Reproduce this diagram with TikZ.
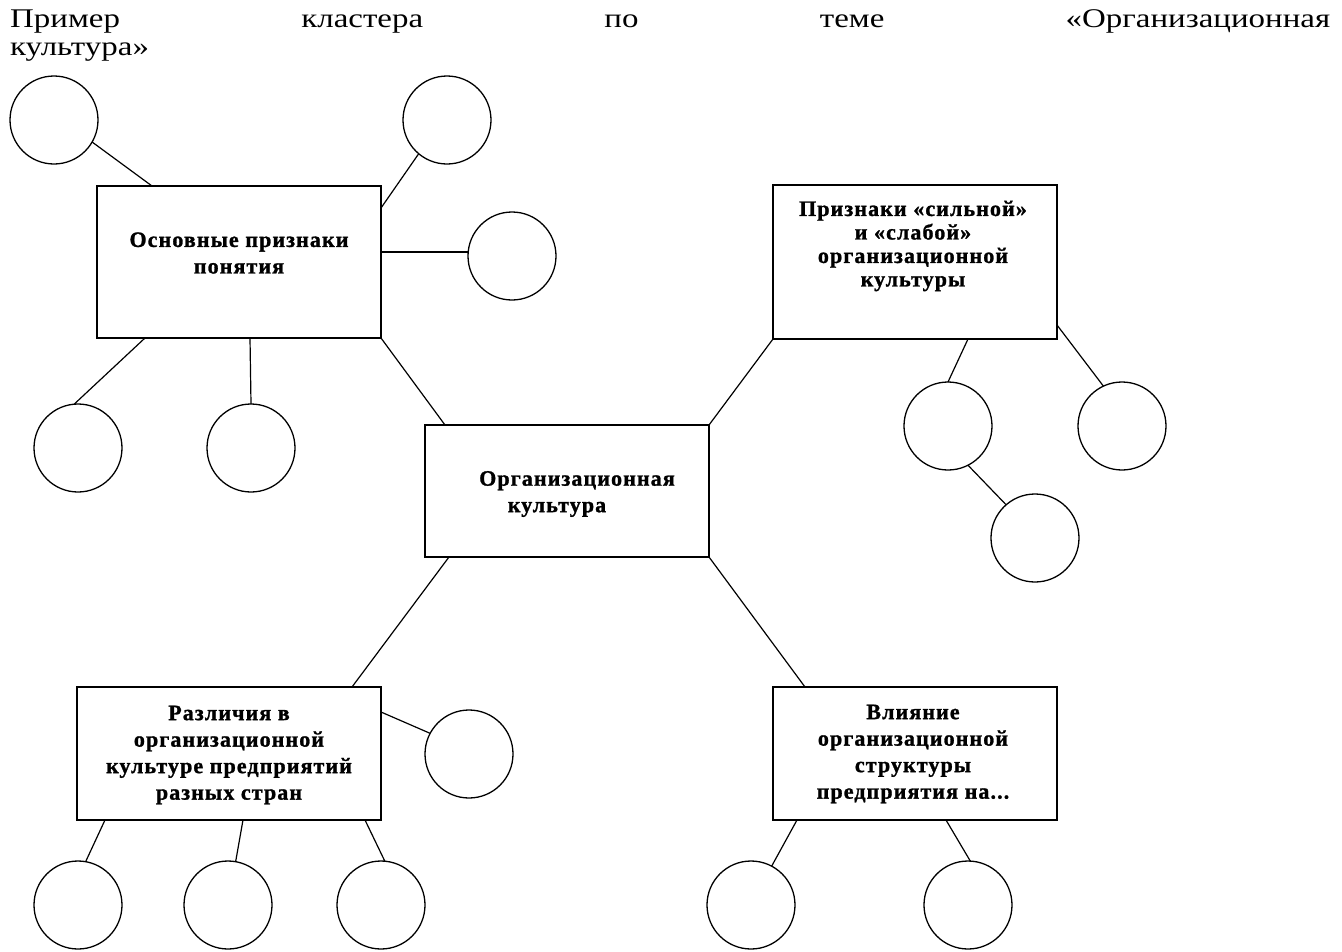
\documentclass[tikz,border=0pt]{standalone}
\usepackage{fontspec}
\setmainfont{Liberation Serif}
\newfontfamily\boxfont[LetterSpace=5,FakeBold=1.2]{Liberation Serif}
\newfontfamily\titlefont[FakeStretch=1.22]{Liberation Serif}
\usetikzlibrary{calc}
\begin{document}
\begin{tikzpicture}[x=1pt,y=-1pt,
  box/.style={draw, line width=1.5pt, inner sep=0pt, outer sep=0pt},
  circ/.style={draw, circle, line width=1.3pt, minimum size=88pt, inner sep=0pt, outer sep=0pt},
  lbl/.style={inner sep=0pt, align=center, font=\boxfont\bfseries\fontsize{22}{26.5}\selectfont},
  conn/.style={line width=1.2pt},
  ttl/.style={inner sep=0pt, anchor=base west, font=\titlefont\fontsize{27}{28}\selectfont}]
\useasboundingbox (0,0) rectangle (1342,951);
% title
\node[ttl] (title1) at (10,27) {\hbox to 1320pt{Пример\hfill кластера\hfill по\hfill теме\hfill «Организационная}};
\node[ttl] (title2) at (10,55) {культура»};
% boxes
\node[box, minimum width=284pt, minimum height=152pt] (b1) at (239,262) {};
\node[box, minimum width=284pt, minimum height=154pt] (b2) at (915,262) {};
\node[box, minimum width=284pt, minimum height=132pt] (b0) at (567,491) {};
\node[box, minimum width=304pt, minimum height=133pt] (b4) at (229,753.5) {};
\node[box, minimum width=284pt, minimum height=133pt] (b5) at (915,753.5) {};
% labels
\node[lbl] (t1) at (239,253) {Основные признаки\\понятия};
\node[lbl, font=\boxfont\bfseries\fontsize{22}{23.5}\selectfont] (t2) at (913,246) {Признаки «сильной»\\и «слабой»\\организационной\\культуры};
\node[lbl] (t0) at (577,494) {Организационная\\\hspace*{-40pt}культура};
\node[lbl] (t4) at (229,755) {Различия в\\организационной\\культуре предприятий\\разных стран};
\node[lbl] (t5) at (913,754) {Влияние\\организационной\\структуры\\предприятия на...};
% circles
\node[circ] (c1) at (54,120) {};
\node[circ] (c2) at (447,120) {};
\node[circ] (c3) at (512,256) {};
\node[circ] (c4) at (78,448) {};
\node[circ] (c5) at (251,448) {};
\node[circ] (c6) at (948,426) {};
\node[circ] (c7) at (1122,426) {};
\node[circ] (c8) at (1035,538) {};
\node[circ] (c9) at (469,754) {};
\node[circ] (c10) at (78,905) {};
\node[circ] (c11) at (228,905) {};
\node[circ] (c12) at (381,905) {};
\node[circ] (c13) at (751,905) {};
\node[circ] (c14) at (968,905) {};
% anchor points on boxes
\coordinate (p1) at ($(b1.north west)+(55,0)$);
\coordinate (p2) at ($(b1.north east)+(0,22)$);
\coordinate (p3) at ($(b1.north east)+(0,66)$);
\coordinate (p4) at ($(b1.south west)+(48,0)$);
\coordinate (p5) at ($(b1.south west)+(153,0)$);
\coordinate (p6) at ($(b0.north west)+(20,0)$);
\coordinate (p8) at ($(b2.south west)+(195,0)$);
\coordinate (p9) at ($(b2.north east)+(0,140)$);
\coordinate (p11a) at ($(b0.south west)+(24,0)$);
\coordinate (p11b) at ($(b4.north west)+(275,0)$);
\coordinate (p12) at ($(b5.north west)+(32,0)$);
\coordinate (p13) at ($(b4.north east)+(0,25)$);
\coordinate (p14) at ($(b4.south west)+(28,0)$);
\coordinate (p15) at ($(b4.south west)+(166,0)$);
\coordinate (p16) at ($(b4.south west)+(288,0)$);
\coordinate (p17) at ($(b5.south west)+(24,0)$);
\coordinate (p18) at ($(b5.south west)+(173,0)$);
% connectors
\draw[conn] (c1.-30) -- (p1);
\draw[conn] (c2.-130) -- (p2);
\draw[conn] (p3) -- (c3.west |- p3);
\draw[conn] (p4) -- (c4.95);
\draw[conn] (p5) -- (c5.north);
\draw[conn] (b1.south east) -- (p6);
\draw[conn] (b2.south west) -- (b0.north east);
\draw[conn] (p8) -- (c6.north);
\draw[conn] (p9) -- (c7.115);
\draw[conn] (c6.-63) -- (c8.131);
\draw[conn] (p11a) -- (p11b);
\draw[conn] (b0.south east) -- (p12);
\draw[conn] (p13) -- (c9.152);
\draw[conn] (p14) -- (c10.80);
\draw[conn] (p15) -- (c11.80);
\draw[conn] (p16) -- (c12.85);
\draw[conn] (p17) -- (c13.62);
\draw[conn] (p18) -- (c14.87);
\end{tikzpicture}
\end{document}
